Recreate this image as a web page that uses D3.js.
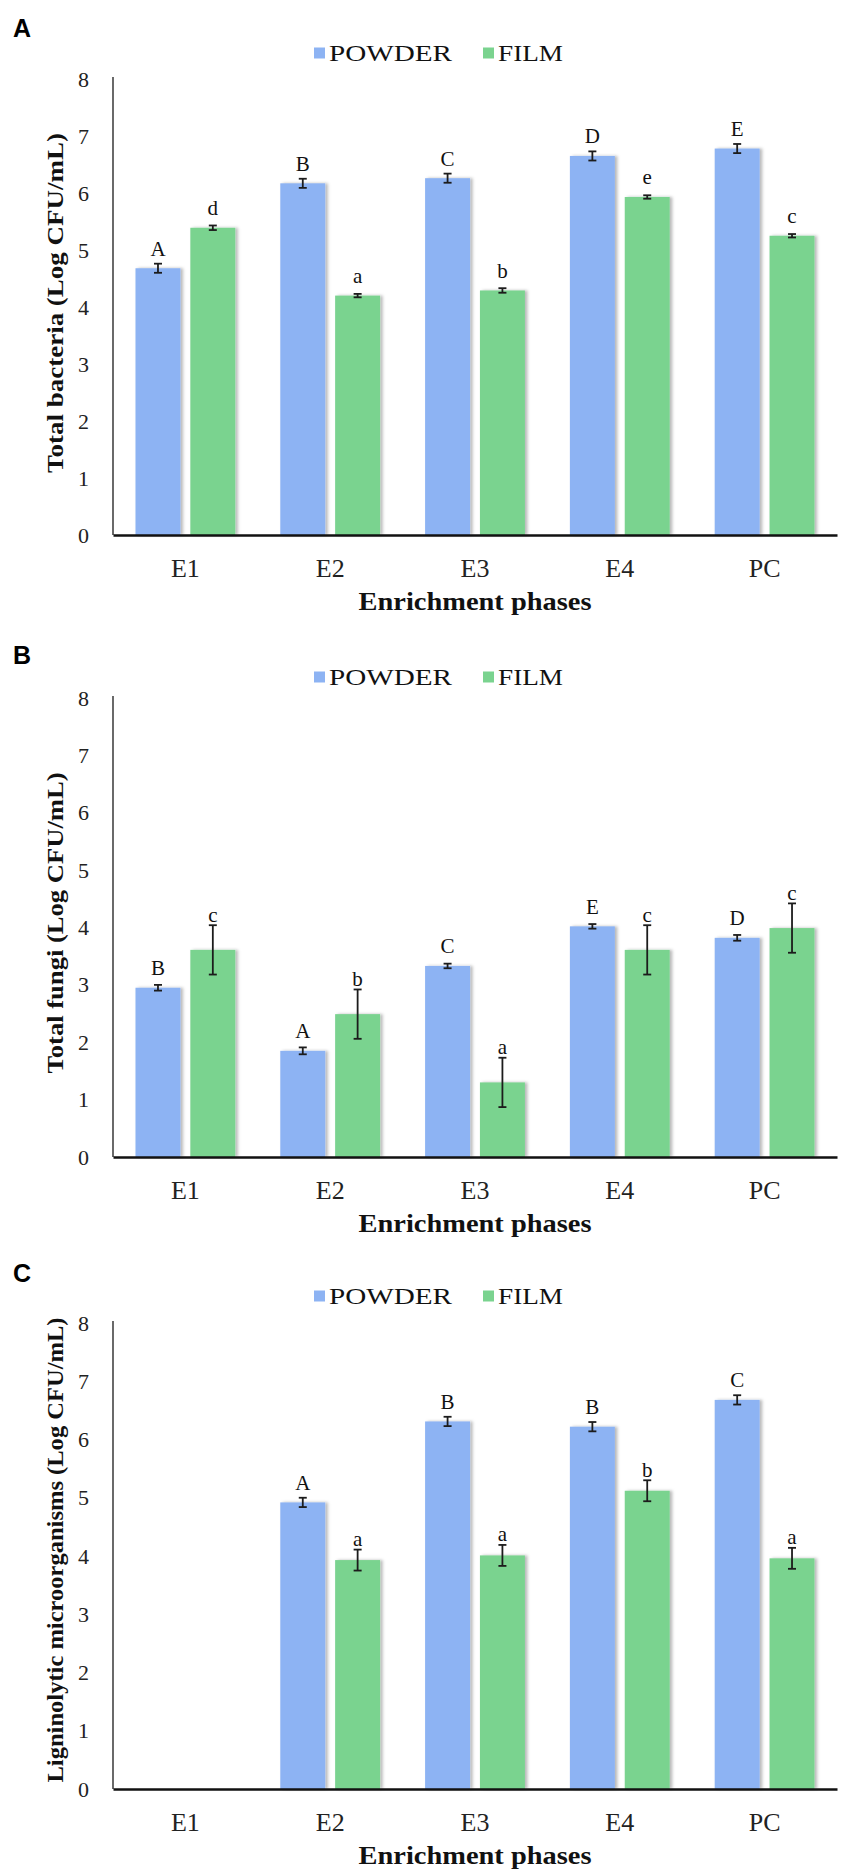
<!DOCTYPE html>
<html>
<head>
<meta charset="utf-8">
<script src="https://cdn.jsdelivr.net/npm/d3@7"></script>
<style>
  html, body { margin: 0; padding: 0; background: #fff; }
  svg { display: block; }
</style>
</head>
<body>
<svg id="chart" width="850" height="1875"></svg>
<script>
// ---------------- DATA ----------------
const categories = ["E1", "E2", "E3", "E4", "PC"];
const seriesNames = ["POWDER", "FILM"];
const yTickValues = [0, 1, 2, 3, 4, 5, 6, 7, 8];

// Panel A - Total bacteria
const bacteriaPowder = [4.68, 6.17, 6.26, 6.65, 6.78];
const bacteriaFilm = [5.39, 4.20, 4.29, 5.93, 5.25];
const bacteriaPowderErr = [0.08, 0.08, 0.08, 0.08, 0.08];
const bacteriaFilmErr = [0.04, 0.03, 0.04, 0.03, 0.03];
const bacteriaPowderLetters = ["A", "B", "C", "D", "E"];
const bacteriaFilmLetters = ["d", "a", "b", "e", "c"];

// Panel B - Total fungi
const fungiPowder = [2.95, 1.85, 3.33, 4.02, 3.82];
const fungiFilm = [3.61, 2.49, 1.30, 3.61, 3.99];
const fungiPowderErr = [0.05, 0.06, 0.04, 0.04, 0.05];
const fungiFilmErr = [0.43, 0.43, 0.43, 0.43, 0.43];
const fungiPowderLetters = ["B", "A", "C", "E", "D"];
const fungiFilmLetters = ["c", "b", "a", "c", "c"];

// Panel C - Ligninolytic microorganisms (E1 not present)
const ligninPowder = [null, 4.92, 6.31, 6.22, 6.68];
const ligninFilm = [null, 3.93, 4.01, 5.12, 3.96];
const ligninPowderErr = [null, 0.08, 0.08, 0.08, 0.08];
const ligninFilmErr = [null, 0.18, 0.18, 0.18, 0.18];
const ligninPowderLetters = [null, "A", "B", "B", "C"];
const ligninFilmLetters = [null, "a", "a", "b", "a"];

const panelLetters = ["A", "B", "C"];
const yTitles = [
  "Total bacteria (Log CFU/mL)",
  "Total fungi (Log CFU/mL)",
  "Ligninolytic microorganisms (Log CFU/mL)"
];
const xTitle = "Enrichment phases";

// ---------------- STYLE / LAYOUT ----------------
const colors = { POWDER: "#8db3f3", FILM: "#7ad38f" };
const serif = "'Liberation Serif', 'Times New Roman', serif";
const sans = "'Liberation Sans', Arial, sans-serif";

const svg = d3.select("#chart");
const defs = svg.append("defs");
const f = defs.append("filter").attr("id", "shadow")
  .attr("x", "-20%").attr("y", "-5%").attr("width", "140%").attr("height", "110%");
f.append("feDropShadow").attr("dx", 2.5).attr("dy", 0).attr("stdDeviation", 1.4)
  .attr("flood-color", "#000").attr("flood-opacity", 0.28);

const panels = [
  { letterY: 28, legendY: 53, yTop: 79, y0: 535, titleLen: 340, titleCY: 303,
    powder: bacteriaPowder, film: bacteriaFilm, pErr: bacteriaPowderErr, fErr: bacteriaFilmErr,
    pLet: bacteriaPowderLetters, fLet: bacteriaFilmLetters },
  { letterY: 655, legendY: 677, yTop: 698, y0: 1157, titleLen: 301, titleCY: 923,
    powder: fungiPowder, film: fungiFilm, pErr: fungiPowderErr, fErr: fungiFilmErr,
    pLet: fungiPowderLetters, fLet: fungiFilmLetters },
  { letterY: 1273, legendY: 1296, yTop: 1323, y0: 1789, titleLen: 465, titleCY: 1550,
    powder: ligninPowder, film: ligninFilm, pErr: ligninPowderErr, fErr: ligninFilmErr,
    pLet: ligninPowderLetters, fLet: ligninFilmLetters }
];

const xLeft = 113, xRight = 837;

panels.forEach((p, i) => {
  const g = svg.append("g");
  const x0 = d3.scaleBand().domain(categories).range([xLeft, xRight]).padding(0);
  const x1 = d3.scaleBand().domain(seriesNames).range([0, x0.bandwidth()])
    .paddingInner(0.18).paddingOuter(0.41);
  const y = d3.scaleLinear().domain([0, 8]).range([p.y0, p.yTop]);

  // panel letter
  g.append("text").attr("x", 13).attr("y", p.letterY).attr("dy", "0.36em")
    .attr("font-family", sans).attr("font-weight", "bold").attr("font-size", 25)
    .attr("fill", "#000").text(panelLetters[i]);

  // legend
  const leg = g.append("g").attr("transform", `translate(0,${p.legendY})`);
  const legItems = [
    { name: "POWDER", sx: 314, tx: 329, len: 123 },
    { name: "FILM", sx: 483, tx: 498, len: 65 }
  ];
  legItems.forEach(d => {
    leg.append("rect").attr("x", d.sx).attr("y", -5.5).attr("width", 11).attr("height", 11)
      .attr("fill", colors[d.name]);
    leg.append("text").attr("x", d.tx).attr("y", 0).attr("dy", "0.35em")
      .attr("font-family", serif).attr("font-size", 24).attr("fill", "#111")
      .attr("textLength", d.len).attr("lengthAdjust", "spacingAndGlyphs")
      .text(d.name);
  });

  // bars
  const rows = categories.map((c, k) => ({
    cat: c,
    vals: [
      { s: "POWDER", v: p.powder[k], e: p.pErr[k], l: p.pLet[k] },
      { s: "FILM", v: p.film[k], e: p.fErr[k], l: p.fLet[k] }
    ].filter(d => d.v !== null)
  }));

  const cg = g.selectAll(".cat").data(rows).enter().append("g")
    .attr("transform", d => `translate(${x0(d.cat)},0)`);

  cg.selectAll("rect.bar").data(d => d.vals).enter().append("rect")
    .attr("class", "bar")
    .attr("x", d => x1(d.s))
    .attr("width", x1.bandwidth())
    .attr("y", d => y(d.v))
    .attr("height", d => y(0) - y(d.v))
    .attr("fill", d => colors[d.s])
    .attr("filter", "url(#shadow)");

  // error bars
  const eb = cg.selectAll("g.err").data(d => d.vals).enter().append("g")
    .attr("stroke", "#1c1c1c").attr("stroke-width", 1.8);
  eb.append("line")
    .attr("x1", d => x1(d.s) + x1.bandwidth() / 2).attr("x2", d => x1(d.s) + x1.bandwidth() / 2)
    .attr("y1", d => y(d.v + d.e)).attr("y2", d => y(d.v - d.e));
  eb.append("line")
    .attr("x1", d => x1(d.s) + x1.bandwidth() / 2 - 4).attr("x2", d => x1(d.s) + x1.bandwidth() / 2 + 4)
    .attr("y1", d => y(d.v + d.e)).attr("y2", d => y(d.v + d.e));
  eb.append("line")
    .attr("x1", d => x1(d.s) + x1.bandwidth() / 2 - 4).attr("x2", d => x1(d.s) + x1.bandwidth() / 2 + 4)
    .attr("y1", d => y(d.v - d.e)).attr("y2", d => y(d.v - d.e));

  // significance letters
  cg.selectAll("text.sig").data(d => d.vals).enter().append("text")
    .attr("class", "sig")
    .attr("x", d => x1(d.s) + x1.bandwidth() / 2)
    .attr("y", d => Math.min(y(d.v) - 20, y(d.v + d.e) - 11))
    .attr("dy", "0.35em")
    .attr("text-anchor", "middle")
    .attr("font-family", serif).attr("font-size", 21).attr("fill", "#111")
    .text(d => d.l);

  // y axis
  const yAxis = g.append("g").attr("transform", `translate(${xLeft},0)`)
    .call(d3.axisLeft(y).tickValues(yTickValues).tickSize(0).tickPadding(24).tickFormat(d3.format("d")));
  yAxis.select(".domain").remove();
  yAxis.selectAll("text").attr("font-family", serif).attr("font-size", 22).attr("fill", "#222");
  g.append("line").attr("x1", xLeft).attr("x2", xLeft).attr("y1", p.yTop - 2).attr("y2", p.y0)
    .attr("stroke", "#444").attr("stroke-width", 1.6);

  // x axis
  const xAxis = g.append("g").attr("transform", `translate(0,${p.y0})`)
    .call(d3.axisBottom(x0).tickSize(0).tickPadding(24));
  xAxis.select(".domain").attr("stroke", "#111").attr("stroke-width", 2.4);
  xAxis.selectAll("text").attr("font-family", serif).attr("font-size", 26).attr("fill", "#222");

  // axis titles
  g.append("text")
    .attr("transform", `translate(55,${p.titleCY}) rotate(-90)`)
    .attr("dy", "0.35em").attr("text-anchor", "middle")
    .attr("font-family", serif).attr("font-weight", "bold").attr("font-size", 24).attr("fill", "#111")
    .attr("textLength", p.titleLen).attr("lengthAdjust", "spacingAndGlyphs")
    .text(yTitles[i]);

  g.append("text")
    .attr("x", (xLeft + xRight) / 2).attr("y", p.y0 + 66).attr("dy", "0.35em")
    .attr("text-anchor", "middle")
    .attr("font-family", serif).attr("font-weight", "bold").attr("font-size", 25).attr("fill", "#111")
    .attr("textLength", 233).attr("lengthAdjust", "spacingAndGlyphs")
    .text(xTitle);
});
</script>
</body>
</html>
